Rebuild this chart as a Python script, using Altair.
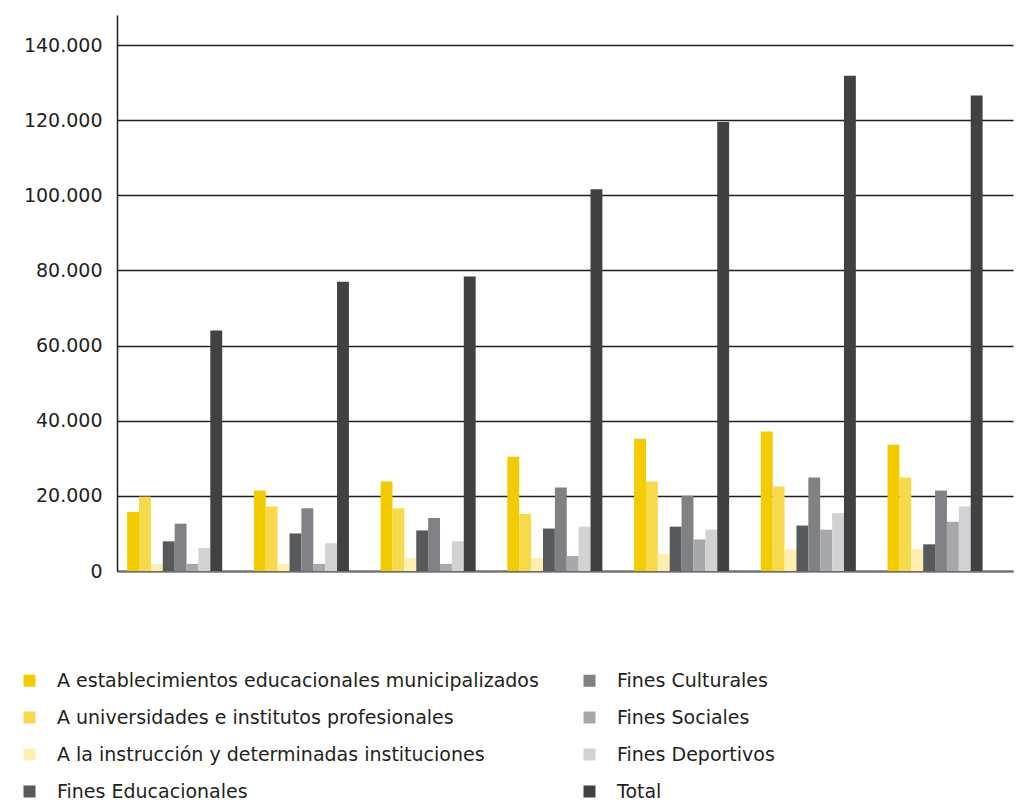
import altair as alt
import pandas as pd

periodos = ["P1", "P2", "P3", "P4", "P5", "P6", "P7"]

series = [
    "A establecimientos educacionales municipalizados",
    "A universidades e institutos profesionales",
    "A la instrucción y determinadas instituciones",
    "Fines Educacionales",
    "Fines Culturales",
    "Fines Sociales",
    "Fines Deportivos",
    "Total",
]

colores = ["#F2CB00", "#F6DA4C", "#FCEFB1", "#58595B", "#808184", "#A7A8AB", "#D1D2D4", "#414042"]

est_municipalizados = [15700, 21400, 23800, 30400, 35200, 37100, 33600]
universidades = [19800, 17200, 16700, 15200, 23800, 22500, 24900]
instruccion = [1900, 1900, 3500, 3500, 4500, 5800, 5800]
fines_educacionales = [7900, 10000, 10800, 11300, 11800, 12100, 7100]
fines_culturales = [12600, 16700, 14100, 22200, 20000, 24900, 21400]
fines_sociales = [1900, 1900, 1900, 4000, 8400, 11000, 13100]
fines_deportivos = [6100, 7400, 7900, 11800, 11000, 15400, 17200]
total = [64000, 77000, 78400, 101600, 119500, 131800, 126600]

valores = [est_municipalizados, universidades, instruccion, fines_educacionales,
           fines_culturales, fines_sociales, fines_deportivos, total]

rows = []
for s, vals in zip(series, valores):
    for p, v in zip(periodos, vals):
        rows.append({"periodo": p, "serie": s, "valor": v})
df = pd.DataFrame(rows)

FONT = "DejaVu Sans"

chart = alt.Chart(df).mark_bar().encode(
    x=alt.X("periodo:N", sort=periodos,
            scale=alt.Scale(paddingInner=0.25, paddingOuter=0.16, align=0.25),
            axis=alt.Axis(title=None, labels=False, ticks=False, domain=True,
                          domainColor="#6d6e71", domainWidth=2, grid=False)),
    xOffset=alt.XOffset("serie:N", sort=series,
                        scale=alt.Scale(paddingInner=0, paddingOuter=0)),
    y=alt.Y("valor:Q",
            scale=alt.Scale(domain=[0, 148000], nice=False),
            axis=alt.Axis(title=None, values=[0, 20000, 40000, 60000, 80000, 100000, 120000, 140000],
                          labelExpr="replace(format(datum.value, ',d'), ',', '.')",
                          ticks=False, labelPadding=15, labelFontSize=19, labelFont=FONT,
                          labelColor="#231f20", domain=True, domainColor="#231f20", domainWidth=1.5,
                          grid=True, gridColor="#231f20", gridWidth=1.3)),
    color=alt.Color("serie:N",
                    scale=alt.Scale(domain=series, range=colores),
                    legend=alt.Legend(title=None, orient="none", legendX=-97, legendY=656,
                                      direction="vertical", columns=2, columnPadding=41,
                                      rowPadding=17, symbolType="square", symbolSize=144,
                                      symbolStrokeWidth=0, symbolOpacity=1,
                                      labelFont=FONT, labelFontSize=19, labelColor="#231f20",
                                      labelOffset=18, labelLimit=600, padding=0)),
).properties(
    width=896, height=556,
    autosize=alt.AutoSizeParams(type="none"),
    padding={"left": 117, "top": 15, "right": 13, "bottom": 232},
).configure_view(stroke=None).configure_axis(domainCap="butt")

chart.save("out.html", embed_options={"renderer": "svg", "actions": False})
